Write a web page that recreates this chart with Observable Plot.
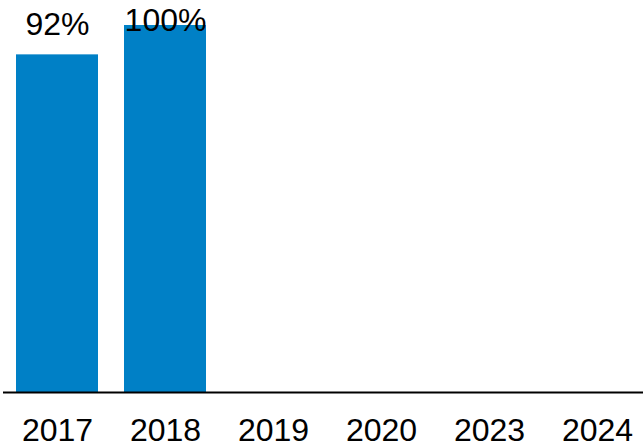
<!DOCTYPE html>
<html>
<head>
<meta charset="utf-8">
<script src="https://cdn.jsdelivr.net/npm/d3@7"></script>
<script src="https://cdn.jsdelivr.net/npm/@observablehq/plot@0.6"></script>
<style>
  html, body { margin: 0; padding: 0; background: #fff; }
  #chart svg { overflow: visible; display: block; }
</style>
</head>
<body>
<div id="chart"></div>
<script>
const years = ["2017", "2018", "2019", "2020", "2023", "2024"];
const values = [92, 100, null, null, null, null];
const labels = ["92%", "100%", "", "", "", ""];

const data = years.map((year, i) => ({ year, value: values[i], label: labels[i] }));
const barData = data.filter(d => d.value != null);

const chart = Plot.plot({
  width: 643,
  height: 448,
  marginTop: 25,
  marginBottom: 56,
  marginLeft: 0,
  marginRight: 0,
  style: { fontFamily: "'Liberation Sans', Arial, sans-serif", fontSize: "32px", color: "#000", background: "#fff" },
  x: { domain: years, range: [2.3, 651], paddingInner: 0.24, paddingOuter: 0.12, label: null },
  y: { domain: [0, 100], axis: null },
  marks: [
    Plot.barY(barData, { x: "year", y: "value", fill: "#0080c6" }),
    Plot.ruleY([0], { stroke: "#000", strokeWidth: 2, insetLeft: 3 }),
    Plot.text(barData, {
      x: "year",
      y: d => Math.min(d.value + 5.3, 98.5),
      text: "label",
      fontSize: 32,
      fill: "#000",
      lineAnchor: "bottom",
      textAnchor: "middle"
    }),
    Plot.axisX({ tickSize: 0, tickPadding: 26, fontSize: 32, label: null, fill: "#000" })
  ]
});
document.getElementById("chart").appendChild(chart);
</script>
</body>
</html>
